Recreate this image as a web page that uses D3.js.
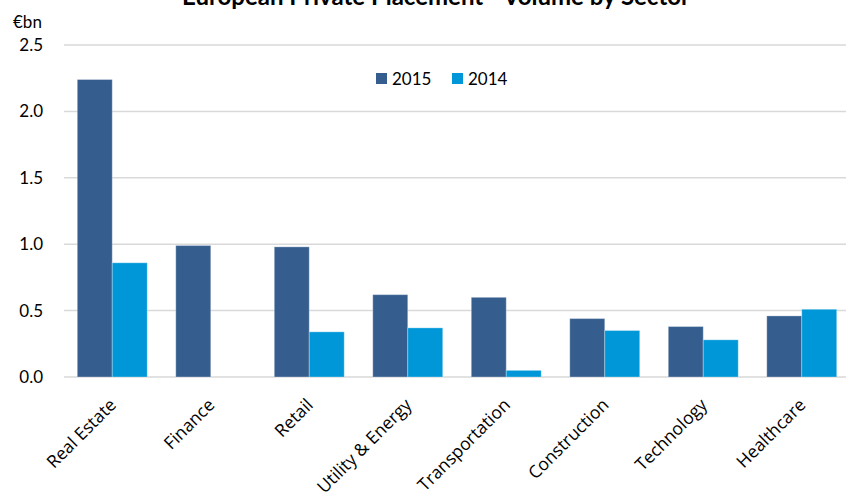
<!DOCTYPE html>
<html>
<head>
<meta charset="utf-8">
<script src="https://cdn.jsdelivr.net/npm/d3@7"></script>
<style>
  body { margin: 0; background: #fff; }
  svg text { font-family: Lato, "Open Sans", sans-serif; fill: #000; }
</style>
</head>
<body>
<div class="chart"></div>
<script>
var sectors = ["Real Estate", "Finance", "Retail", "Utility & Energy", "Transportation", "Construction", "Technology", "Healthcare"];
var years = ["2015", "2014"];
var vol2015 = [2.24, 0.99, 0.98, 0.62, 0.60, 0.44, 0.38, 0.46];
var vol2014 = [0.86, null, 0.34, 0.37, 0.05, 0.35, 0.28, 0.51];
var yTicks = [0, 0.5, 1.0, 1.5, 2.0, 2.5];

var width = 846, height = 499;
var colors = { "2015": "#355E8E", "2014": "#0097D8" };

var svg = d3.select(".chart").append("svg")
    .attr("width", width)
    .attr("height", height);

// plot area (right side is cut off in the original)
var x = d3.scaleBand()
    .domain(sectors)
    .range([63, 851])
    .paddingInner(0.29)
    .paddingOuter(0.145);
var x1 = d3.scaleBand().domain(years).range([0, x.bandwidth()]);
var y = d3.scaleLinear().domain([0, 2.5]).range([377, 45]);

// gridlines
svg.append("g")
  .selectAll("line")
  .data(yTicks)
  .enter().append("line")
    .attr("x1", 64)
    .attr("x2", width)
    .attr("y1", function(d) { return y(d); })
    .attr("y2", function(d) { return y(d); })
    .attr("stroke", "#D9D9D9")
    .attr("stroke-width", 1.5);

// y axis labels
var yAxis = svg.append("g")
    .attr("transform", "translate(64,0)")
    .call(d3.axisLeft(y).tickValues(yTicks).tickSize(0).tickPadding(21).tickFormat(d3.format(".1f")));
yAxis.select(".domain").remove();
yAxis.selectAll("text").style("font-size", "17px").attr("fill", "#000");

svg.append("text")
    .attr("x", 13)
    .attr("y", 28)
    .style("font-size", "17px")
    .text("€bn");

// bars
var rows = sectors.map(function(s, i) {
  return { sector: s, values: [{ year: "2015", v: vol2015[i] }, { year: "2014", v: vol2014[i] }] };
});

var groups = svg.append("g")
  .selectAll("g")
  .data(rows)
  .enter().append("g")
    .attr("transform", function(d) { return "translate(" + x(d.sector) + ",0)"; });

groups.selectAll("rect")
  .data(function(d) { return d.values.filter(function(e) { return e.v != null; }); })
  .enter().append("rect")
    .attr("x", function(d) { return x1(d.year); })
    .attr("width", x1.bandwidth())
    .attr("y", function(d) { return y(d.v); })
    .attr("height", function(d) { return y(0) - y(d.v); })
    .attr("fill", function(d) { return colors[d.year]; })
    .attr("stroke", "rgba(255,255,255,0.3)")
    .attr("stroke-width", 1);

// x axis labels
var xAxis = svg.append("g")
    .attr("transform", "translate(0,377)")
    .call(d3.axisBottom(x).tickSize(0).tickPadding(0));
xAxis.select(".domain").remove();
xAxis.selectAll("text")
    .style("font-family", "'Open Sans', sans-serif")
    .style("font-size", "17.5px")
    .attr("fill", "#000")
    .attr("text-anchor", "end")
    .attr("dy", "0")
    .attr("transform", "translate(5,29) rotate(-45)");

// title (partly cut off at top, as in the original)
svg.append("text")
    .attr("x", 436)
    .attr("y", 5)
    .attr("text-anchor", "middle")
    .style("font-size", "24px")
    .style("font-weight", "bold")
    .text("European Private Placement - Volume by Sector");

// legend
var legend = svg.append("g")
  .selectAll("g")
  .data(years)
  .enter().append("g")
    .attr("transform", function(d, i) { return "translate(" + (376 + i * 76) + ",73)"; });

legend.append("rect")
    .attr("width", 11)
    .attr("height", 11)
    .attr("fill", function(d) { return colors[d]; });

legend.append("text")
    .attr("x", 16)
    .attr("y", 12)
    .style("font-size", "17px")
    .text(function(d) { return d; });
</script>
</body>
</html>
